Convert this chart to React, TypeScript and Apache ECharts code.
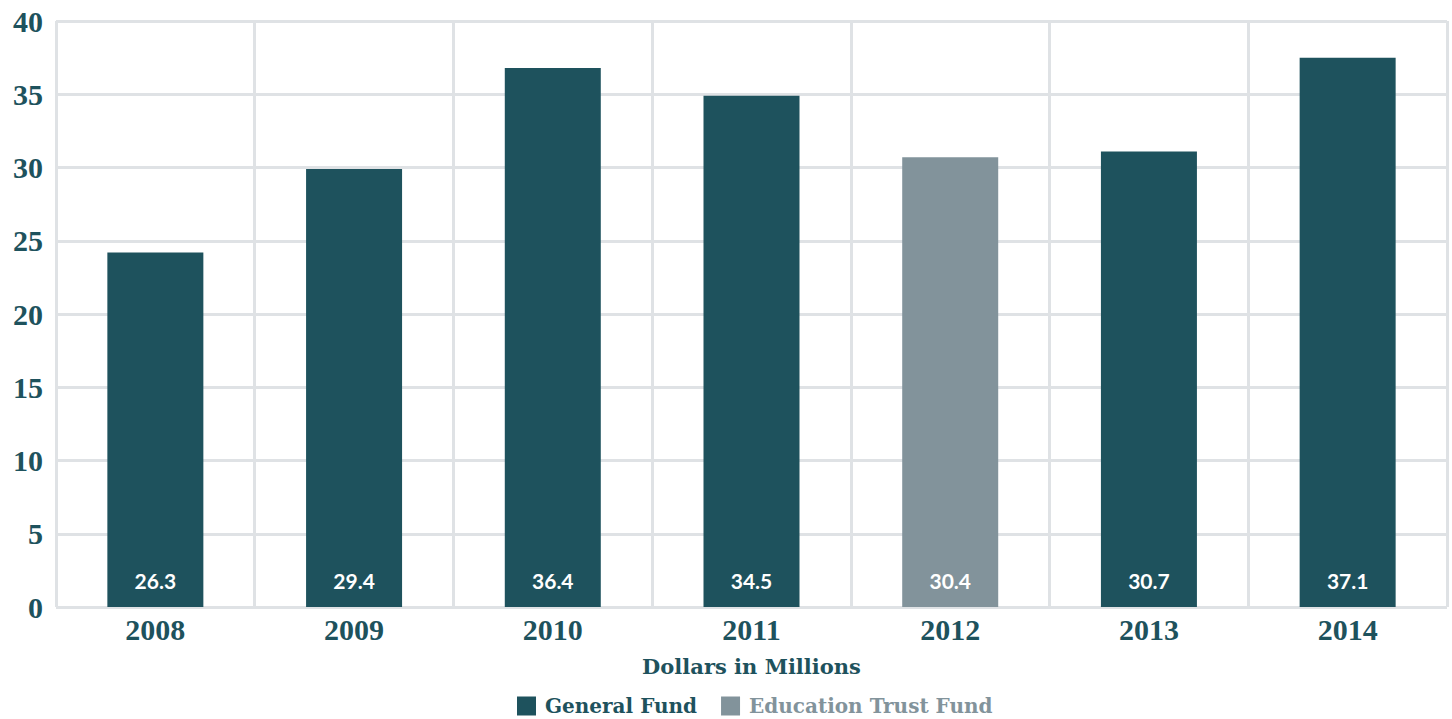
import React, { useEffect, useRef } from "react";
import * as echarts from "echarts";

const years = ["2008", "2009", "2010", "2011", "2012", "2013", "2014"];
// bar heights as drawn in the picture
const generalFund = [24.2, 29.9, 36.8, 34.9, null, 31.1, 37.5];
const educationTrustFund = [null, null, null, null, 30.7, null, null];
// value labels as printed inside the bars
const barLabels = ["26.3", "29.4", "36.4", "34.5", "30.4", "30.7", "37.1"];
const yTicks = [0, 5, 10, 15, 20, 25, 30, 35, 40];

const TEAL = "#1e525d";
const GREY = "#82939b";
const GRID = "#dfe2e5";

export default function App() {
  const ref = useRef<HTMLDivElement>(null);
  useEffect(() => {
    const chart = echarts.init(ref.current!, null, { renderer: "svg" });
    const labelCfg = {
      show: true,
      position: "insideBottom",
      distance: 16,
      color: "#ffffff",
      fontFamily: "Lato",
      fontWeight: "bold",
      fontSize: 21,
      formatter: (p: any) => barLabels[p.dataIndex],
    };
    chart.setOption({
      animation: false,
      backgroundColor: "#ffffff",
      grid: { left: 56, right: 5, top: 21, bottom: 112, containLabel: false },
      legend: {
        top: 691,
        left: 512,
        icon: "rect",
        itemWidth: 19,
        itemHeight: 19,
        itemGap: 24,
        data: [
          { name: "General Fund", textStyle: { color: TEAL } },
          { name: "Education Trust Fund", textStyle: { color: GREY } },
        ],
        textStyle: { fontFamily: "DejaVu Serif", fontWeight: "bold", fontSize: 20, padding: [0, 0, 0, 4] },
      },
      xAxis: {
        type: "category",
        data: years,
        name: "Dollars in Millions",
        nameLocation: "middle",
        nameGap: 49,
        nameTextStyle: { color: TEAL, fontFamily: "DejaVu Serif", fontWeight: "bold", fontSize: 21 },
        axisLine: { show: false },
        axisTick: { show: false },
        axisLabel: { color: TEAL, fontFamily: "Liberation Serif", fontWeight: "bold", fontSize: 30, margin: 7 },
        splitLine: { show: true, lineStyle: { color: GRID, width: 3 } },
      },
      yAxis: {
        type: "value",
        min: yTicks[0],
        max: yTicks[yTicks.length - 1],
        interval: 5,
        axisLine: { show: false },
        axisTick: { show: false },
        axisLabel: { color: TEAL, fontFamily: "Liberation Serif", fontWeight: "bold", fontSize: 30, margin: 13 },
        splitLine: { show: true, lineStyle: { color: GRID, width: 3 } },
      },
      series: [
        {
          name: "General Fund",
          type: "bar",
          data: generalFund,
          barWidth: 96,
          barGap: "-100%",
          itemStyle: { color: TEAL },
          label: labelCfg,
        },
        {
          name: "Education Trust Fund",
          type: "bar",
          data: educationTrustFund,
          barWidth: 96,
          barGap: "-100%",
          itemStyle: { color: GREY },
          label: labelCfg,
        },
      ],
    });
    return () => chart.dispose();
  }, []);
  return (
    <div
      ref={ref}
      style={{ position: "absolute", left: 0, top: 0, width: 1452, height: 719 }}
    />
  );
}
